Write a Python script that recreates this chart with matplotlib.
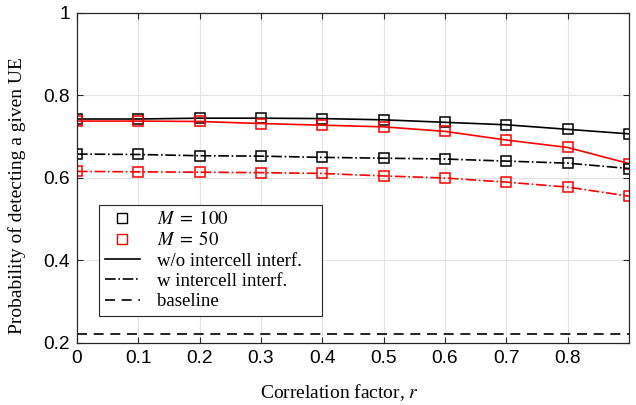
import matplotlib
matplotlib.use('Agg')
import matplotlib.pyplot as plt
from matplotlib.lines import Line2D
import numpy as np

# Correlation factor
r = [0.0, 0.1, 0.2, 0.3, 0.4, 0.5, 0.6, 0.7, 0.8, 0.9]

# M = 100
m100_wo = [0.742, 0.742, 0.744, 0.744, 0.743, 0.740, 0.734, 0.728, 0.717, 0.706]
m100_w = [0.657, 0.656, 0.653, 0.652, 0.649, 0.647, 0.645, 0.640, 0.635, 0.622]
# M = 50
m50_wo = [0.737, 0.737, 0.736, 0.731, 0.727, 0.723, 0.712, 0.691, 0.673, 0.634]
m50_w = [0.615, 0.614, 0.613, 0.612, 0.610, 0.604, 0.599, 0.589, 0.577, 0.555]
baseline = 0.221

serif = ['Liberation Serif', 'DejaVu Serif']
sans = ['Liberation Sans', 'DejaVu Sans']
plt.rcParams['mathtext.fontset'] = 'stix'

fig = plt.figure(figsize=(6.36, 4.05), dpi=100)
ax = fig.add_axes([0.121, 0.154, 0.868, 0.815])

mk = dict(marker='s', markersize=6.5, markerfacecolor='none', markeredgewidth=1.1, linewidth=1.2)
ax.plot(r, m100_wo, color='black', linestyle='-', **mk)
ax.plot(r, m50_wo, color='red', linestyle='-', **mk)
ax.plot(r, m100_w, color='black', linestyle='-.', **mk)
ax.plot(r, m50_w, color='red', linestyle='-.', **mk)
ax.axhline(baseline, color='black', linestyle=(0, (6, 4)), linewidth=1.2)

ax.set_xlim(0, 0.9)
ax.set_ylim(0.2, 1.0)
ax.set_xticks(np.arange(0, 0.85, 0.1))
ax.set_xticklabels(['0', '0.1', '0.2', '0.3', '0.4', '0.5', '0.6', '0.7', '0.8'])
ax.set_yticks([0.2, 0.4, 0.6, 0.8, 1.0])
ax.set_yticklabels(['0.2', '0.4', '0.6', '0.8', '1'])
for lab in ax.get_xticklabels() + ax.get_yticklabels():
    lab.set_family(sans)
    lab.set_fontsize(13.8)
ax.tick_params(direction='in', top=True, right=True, length=4, width=0.8, color='#262626', pad=5)
ax.grid(True, color='#e3e3e3', linewidth=0.8)
ax.set_axisbelow(True)
for s in ax.spines.values():
    s.set_color('#262626')
    s.set_linewidth(0.9)

ax.set_xlabel('Correlation factor, $r$', family=serif, fontsize=14, va='center')
ax.xaxis.set_label_coords(0.476, -0.152)
ax.set_ylabel('Probability of detecting a given UE', family=serif, fontsize=14, va='center')
ax.yaxis.set_label_coords(-0.109, 0.446)

handles = [
    Line2D([], [], color='black', linestyle='none', marker='s', markerfacecolor='none', markersize=6.5),
    Line2D([], [], color='red', linestyle='none', marker='s', markerfacecolor='none', markersize=6.5),
    Line2D([], [], color='black', linestyle='-', linewidth=1.2),
    Line2D([], [], color='black', linestyle='-.', linewidth=1.2),
    Line2D([], [], color='black', linestyle=(0, (6, 4)), linewidth=1.2),
]
# trailing spaces widen the box a little, like the original legend
labels = [r'$M\;=\;100$', r'$M\;=\;50$', 'w/o intercell interf.   ', 'w intercell interf.', 'baseline']
leg = ax.legend(handles, labels, loc='lower left', bbox_to_anchor=(0.04, 0.081), borderaxespad=0,
                prop={'family': serif, 'size': 13.5}, frameon=True, fancybox=False,
                edgecolor='#262626', framealpha=1, handlelength=1.9, handletextpad=0.9,
                labelspacing=0.17, borderpad=0.3)
leg.get_frame().set_linewidth(0.8)

fig.savefig('out.png', dpi=100)
